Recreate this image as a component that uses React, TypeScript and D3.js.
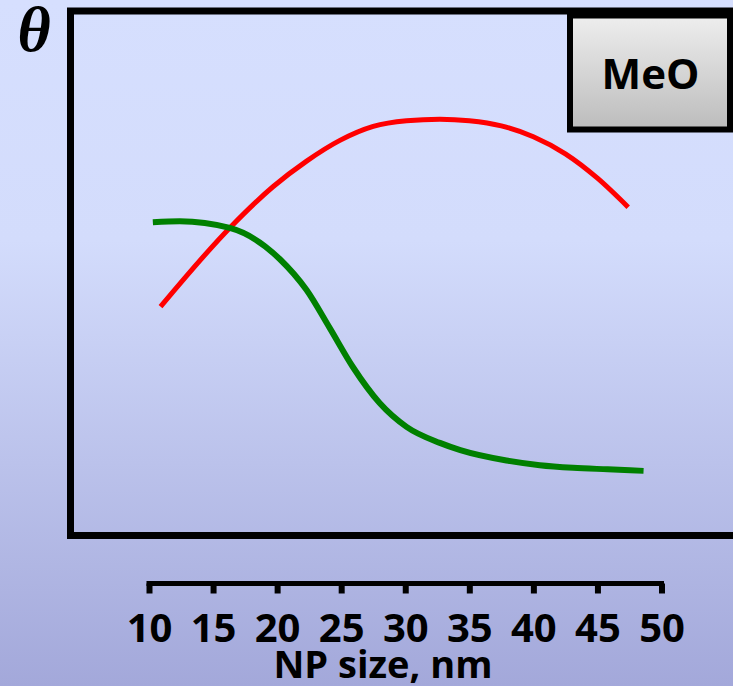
// App.tsx
// theta vs NP size chart (MeO) drawn with d3 into an svg ref
import * as d3 from 'd3';
import React, { useRef, useEffect } from 'react';

const xTicks = [10, 15, 20, 25, 30, 35, 40, 45, 50];

// red curve
const redSize = [10.9, 16.3, 19.7, 22.3, 24.9, 27.5, 30.1, 32.7, 35.0, 37.5, 40.0, 42.5, 45.0, 47.4];
const redTheta = [0.435, 0.587, 0.667, 0.716, 0.756, 0.783, 0.794, 0.797, 0.794, 0.784, 0.763, 0.730, 0.683, 0.627];

// green curve
const greenSize = [10.3, 12.4, 16.3, 20.2, 22.3, 24.1, 25.9, 28.0, 30.1, 32.7, 34.3, 37.9, 40.5, 43.1, 45.8, 48.6];
const greenTheta = [0.598, 0.600, 0.587, 0.527, 0.467, 0.394, 0.319, 0.249, 0.203, 0.172, 0.158, 0.138, 0.129, 0.124, 0.121, 0.118];

const W = 733;
const H = 686;
const boldSans = "'Open Sans', 'Noto Sans', sans-serif";

function Chart() {
    const ref = useRef<SVGSVGElement>(null);

    useEffect(() => {
        document.body.style.margin = "0";
        const svg = d3.select(ref.current);
        svg.selectAll("*").remove();

        //background gradients
        const defs = svg.append("defs");
        const bg = defs.append("linearGradient").attr("id", "bg")
            .attr("x1", 0).attr("y1", 0).attr("x2", 0).attr("y2", 1);
        bg.append("stop").attr("offset", "0%").attr("stop-color", "#d6dffe");
        bg.append("stop").attr("offset", "35%").attr("stop-color", "#d3dcfc");
        bg.append("stop").attr("offset", "100%").attr("stop-color", "#a3a8da");
        const box = defs.append("linearGradient").attr("id", "box")
            .attr("x1", 0).attr("y1", 0).attr("x2", 0).attr("y2", 1);
        box.append("stop").attr("offset", "0%").attr("stop-color", "#eeeeee");
        box.append("stop").attr("offset", "100%").attr("stop-color", "#bcbcbc");

        svg.append("rect").attr("width", W).attr("height", H).attr("fill", "url(#bg)");

        const x = d3.scaleLinear().domain([10, 50]).range([149, 661.5]);
        const y = d3.scaleLinear().domain([0, 1]).range([532, 14]);

        //plot frame, open on the right
        svg.append("path")
            .attr("d", "M745,11H70.5V535.5H745")
            .attr("fill", "none")
            .attr("stroke", "#000")
            .attr("stroke-width", 7);

        //curves
        const line = d3.line<[number, number]>()
            .x(d => x(d[0]))
            .y(d => y(d[1]))
            .curve(d3.curveMonotoneX);

        svg.append("path")
            .datum(redSize.map((s, i) => [s, redTheta[i]] as [number, number]))
            .attr("d", line)
            .attr("fill", "none")
            .attr("stroke", "#ff0000")
            .attr("stroke-width", 5);

        svg.append("path")
            .datum(greenSize.map((s, i) => [s, greenTheta[i]] as [number, number]))
            .attr("d", line)
            .attr("fill", "none")
            .attr("stroke", "#008000")
            .attr("stroke-width", 6);

        //MeO box
        svg.append("rect")
            .attr("x", 570).attr("y", 15.5)
            .attr("width", 160).attr("height", 114)
            .attr("fill", "url(#box)")
            .attr("stroke", "#000")
            .attr("stroke-width", 6);
        svg.append("text")
            .attr("x", 650.5).attr("y", 89)
            .attr("text-anchor", "middle")
            .attr("font-family", boldSans)
            .attr("font-weight", "bold")
            .attr("font-size", 42)
            .text("MeO");

        //theta label
        svg.append("text")
            .attr("x", 34).attr("y", 51)
            .attr("text-anchor", "middle")
            .attr("font-family", "'Liberation Serif', 'DejaVu Serif', serif")
            .attr("font-weight", "bold")
            .attr("font-style", "italic")
            .attr("font-size", 64)
            .text("θ");

        //separate x axis below the plot
        const ax = svg.append("g")
            .attr("transform", "translate(0,583.5)")
            .call(d3.axisBottom(x).tickValues(xTicks).tickSize(10).tickSizeOuter(0).tickFormat(d3.format("d")));
        ax.select(".domain")
            .attr("stroke", "#000")
            .attr("stroke-width", 5)
            .attr("stroke-linecap", "square")
            .attr("d", `M${x(10)},0H${x(50)}`);
        ax.selectAll(".tick line")
            .attr("stroke", "#000")
            .attr("stroke-width", 6);
        ax.selectAll(".tick text")
            .attr("y", 58.5)
            .attr("dy", null)
            .attr("fill", "#000")
            .attr("font-family", boldSans)
            .attr("font-weight", "bold")
            .attr("font-size", 40);

        svg.append("text")
            .attr("x", 383).attr("y", 678)
            .attr("text-anchor", "middle")
            .attr("font-family", boldSans)
            .attr("font-weight", "bold")
            .attr("font-size", 38)
            .text("NP size, nm");
    }, []);

    return <svg ref={ref} width={W} height={H} style={{ display: "block" }}></svg>;
}

export default function App() {
    return <Chart />;
}
